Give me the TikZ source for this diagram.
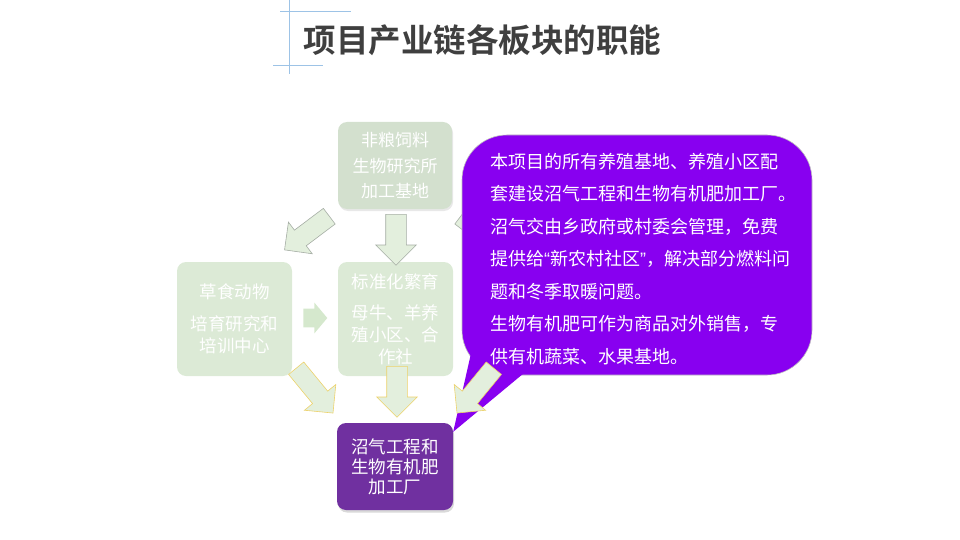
\documentclass[tikz,border=0pt]{standalone}
\usepackage{fontspec}
\setmainfont{Noto Sans CJK SC}[BoldFont={* Bold}]
\newfontfamily\latinq{Liberation Sans}
\usetikzlibrary{shapes.arrows,shadows,calc}
\definecolor{ttlgray}{HTML}{3F3F3F}
\definecolor{rulblue}{HTML}{9DC3E6}
\definecolor{boxgreen}{HTML}{DCEAD6}
\definecolor{topgreen}{HTML}{D3E0CE}
\definecolor{arrfill}{HTML}{E3EFDD}
\definecolor{arrpush}{HTML}{D5E8CD}
\definecolor{arrgray}{HTML}{A5ADA4}
\definecolor{arrgold}{HTML}{EDD26A}
\definecolor{facpurple}{HTML}{7030A0}
\definecolor{notepurple}{HTML}{8800F0}
\tikzset{
  ttl/.style={font=\fontsize{32.5}{36}\selectfont\bfseries,text=ttlgray,inner sep=0pt},
  rul/.style={draw=rulblue,line width=0.9pt},
  fadebox/.style={rounded corners=9pt,fill=boxgreen,text=white,align=center,inner sep=0pt,minimum width=115pt,minimum height=114pt,font=\fontsize{17.5}{22}\selectfont},
  topbox/.style={fadebox,fill=topgreen,minimum height=87pt,minimum width=114pt,font=\fontsize{17}{25.5}\selectfont,drop shadow={opacity=0.18,shadow xshift=1pt,shadow yshift=-2pt}},
  factory/.style={fadebox,fill=facpurple,minimum height=87pt,minimum width=116pt,font=\fontsize{17.5}{20}\selectfont,drop shadow={opacity=0.3,shadow xshift=1pt,shadow yshift=-2.5pt}},
  notebody/.style={rounded corners=45pt,fill=notepurple,draw=black!25,line width=0.6pt,minimum width=350pt,minimum height=240pt,inner sep=0pt},
  notetext/.style={text=white,align=left,inner sep=0pt,font=\fontsize{18}{32.5}\selectfont},
  blk/.style={single arrow,single arrow head extend=10pt,inner xsep=0pt,inner ysep=10pt,anchor=tail,fill=arrfill,line width=0.6pt},
  grayblk/.style={blk,draw=arrgray},
  goldblk/.style={blk,draw=arrgold},
}
\begin{document}
\begin{tikzpicture}[x=1pt,y=-1pt]
  \useasboundingbox (0,0) rectangle (960,540);
  % heading with the blue rules
  \draw[rul] (289,0) -- (289,74);
  \draw[rul] (280,11) -- (351,11);
  \draw[rul] (273,65) -- (323,65);
  \node[ttl] (head) at (482.5,40) {项目产业链各板块的职能};
  % boxes
  \node[topbox] (feed) at (395,165.5) {非粮饲料\\生物研究所\\加工基地};
  \node[fadebox] (herb) at (234.5,319) {草食动物\\[10pt]培育研究和\\培训中心};
  \node[fadebox] (breed) at (395.5,319) {标准化繁育\\[9pt]母牛、羊养\\殖小区、合\\作社};
  \node[factory] (fac) at (395,466.5) {沼气工程和\\生物有机肥\\加工厂};
  % block arrows
  \node[grayblk,inner ysep=9.5pt,minimum height=56pt,rotate=217] (a1) at (329.5,216) {};
  \node[grayblk,inner ysep=9.5pt,minimum height=56pt,rotate=-37] (a7) at (460.5,216) {};
  \node[grayblk,minimum height=51pt,rotate=-90] (a2) at (396,214) {};
  \node[blk,fill=arrpush,inner ysep=9pt,minimum height=24pt,single arrow head extend=6pt,single arrow tip angle=100] (a3) at (303,318) {};
  \node[goldblk,inner ysep=9.5pt,single arrow head extend=10.5pt,minimum height=58pt,rotate=-50.6] (a4) at (296,368) {};
  \node[goldblk,minimum height=51pt,rotate=-90] (a5) at (397,366) {};
  % callout
  \node[notebody] (note) at (637,255) {};
  \fill[notepurple] ($(note.south west)+(10,-25)$) -- ($(fac.north east)+(0,9)$) -- ($(note.south west)+(62,-2)$) -- cycle;
  \node[goldblk,inner ysep=9.5pt,single arrow head extend=10.5pt,minimum height=58pt,rotate=-129.4] (a6) at (494,368) {};
  \node[notetext,anchor=north west] (notetxt) at (490,153) {本项目的所有养殖基地、养殖小区配\\套建设沼气工程和生物有机肥加工厂。\\沼气交由乡政府或村委会管理，免费\\提供给{\latinq“}新农村社区{\latinq”}，解决部分燃料问\\题和冬季取暖问题。\\生物有机肥可作为商品对外销售，专\\供有机蔬菜、水果基地。};
\end{tikzpicture}
\end{document}
